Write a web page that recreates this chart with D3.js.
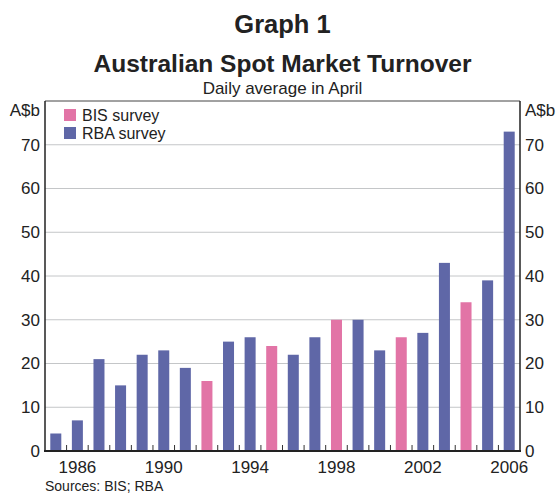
<!DOCTYPE html>
<html>
<head>
<meta charset="utf-8">
<script src="https://cdn.jsdelivr.net/npm/d3@7"></script>
<style>
  body { margin: 0; background: #fff; }
  svg text { font-family: "Liberation Sans", Arial, sans-serif; fill: #222; }
</style>
</head>
<body>
<svg id="chart" width="557" height="495"></svg>
<script>
const years = [1985, 1986, 1987, 1988, 1989, 1990, 1991, 1992, 1993, 1994, 1995,
  1996, 1997, 1998, 1999, 2000, 2001, 2002, 2003, 2004, 2005, 2006];
const turnover = [4, 7, 21, 15, 22, 23, 19, 16, 25, 26, 24,
  22, 26, 30, 30, 23, 26, 27, 43, 34, 39, 73];
const survey = ["RBA", "RBA", "RBA", "RBA", "RBA", "RBA", "RBA", "BIS", "RBA", "RBA", "BIS",
  "RBA", "RBA", "BIS", "RBA", "RBA", "BIS", "RBA", "RBA", "BIS", "RBA", "RBA"];
const yTicks = [0, 10, 20, 30, 40, 50, 60, 70];
const yearLabels = [1986, 1990, 1994, 1998, 2002, 2006];
const legendItems = ["BIS", "RBA"];

const data = years.map((y, i) => ({ year: y, value: turnover[i], survey: survey[i] }));

const colour = { BIS: "#e274a6", RBA: "#5f67a7" };
const margin = { top: 101, right: 37, bottom: 44, left: 45 };
const width = 557, height = 495;
const x0 = margin.left, x1 = width - margin.right;
const y0 = height - margin.bottom, y1 = margin.top;

const svg = d3.select("#chart");

const x = d3.scaleBand()
  .domain(years)
  .range([x0, x1])
  .paddingInner(0.49)
  .paddingOuter(0.245);

const y = d3.scaleLinear().domain([0, 80]).range([y0, y1]);

// gridlines
svg.append("g")
  .selectAll("line")
  .data(yTicks.filter(d => d > 0))
  .join("line")
  .attr("x1", x0).attr("x2", x1)
  .attr("y1", d => y(d)).attr("y2", d => y(d))
  .attr("stroke", "#c4c6c8")
  .attr("stroke-width", 1);

// bars
svg.append("g")
  .selectAll("rect")
  .data(data)
  .join("rect")
  .attr("x", d => x(d.year))
  .attr("y", d => y(d.value))
  .attr("width", x.bandwidth())
  .attr("height", d => y(0) - y(d.value))
  .attr("fill", d => colour[d.survey]);

// frame
svg.append("line").attr("x1", x0).attr("x2", x1).attr("y1", y1).attr("y2", y1)
  .attr("stroke", "#444").attr("stroke-width", 1);
svg.append("line").attr("x1", x0).attr("x2", x0).attr("y1", y1).attr("y2", y0)
  .attr("stroke", "#222").attr("stroke-width", 1.5);
svg.append("line").attr("x1", x1).attr("x2", x1).attr("y1", y1).attr("y2", y0)
  .attr("stroke", "#222").attr("stroke-width", 1.5);

// ticks on the year boundaries
const gap = (x.step() - x.bandwidth()) / 2;
svg.append("g")
  .selectAll("line")
  .data(years.slice(1))
  .join("line")
  .attr("x1", d => x(d) - gap)
  .attr("x2", d => x(d) - gap)
  .attr("y1", y0)
  .attr("y2", y0 - 6)
  .attr("stroke", "#333")
  .attr("stroke-width", 1);

// baseline
svg.append("line").attr("x1", x0 - 1).attr("x2", x1 + 1).attr("y1", y0).attr("y2", y0)
  .attr("stroke", "#222").attr("stroke-width", 2);

// y labels on both sides
const yAxisL = d3.axisLeft(y).tickValues(yTicks).tickSize(0).tickPadding(5);
svg.append("g").attr("transform", `translate(${x0},0)`).call(yAxisL)
  .call(g => g.select(".domain").remove())
  .selectAll("text").style("font-size", "17px").attr("fill", "#222");
const yAxisR = d3.axisRight(y).tickValues(yTicks).tickSize(0).tickPadding(5);
svg.append("g").attr("transform", `translate(${x1},0)`).call(yAxisR)
  .call(g => g.select(".domain").remove())
  .selectAll("text").style("font-size", "17px").attr("fill", "#222");

// year labels
svg.append("g")
  .selectAll("text")
  .data(yearLabels)
  .join("text")
  .attr("x", d => x(d) + x.bandwidth() / 2)
  .attr("y", 473)
  .attr("text-anchor", "middle")
  .style("font-size", "17px")
  .text(d => d);

// units
svg.append("text").attr("x", 40).attr("y", 116).attr("text-anchor", "end")
  .style("font-size", "17px").text("A$b");
svg.append("text").attr("x", 525).attr("y", 116)
  .style("font-size", "17px").text("A$b");

// titles
const cx = (x0 + x1) / 2;
svg.append("text").attr("x", cx).attr("y", 33).attr("text-anchor", "middle")
  .style("font-size", "25.5px").style("font-weight", "bold").text("Graph 1");
svg.append("text").attr("x", cx).attr("y", 72).attr("text-anchor", "middle")
  .style("font-size", "24.5px").style("font-weight", "bold").text("Australian Spot Market Turnover");
svg.append("text").attr("x", cx).attr("y", 94).attr("text-anchor", "middle")
  .style("font-size", "17px").text("Daily average in April");

// legend
const legend = svg.append("g")
  .selectAll("g")
  .data(legendItems)
  .join("g")
  .attr("transform", (d, i) => `translate(64,${109 + i * 18})`);
legend.append("rect").attr("width", 12).attr("height", 12).attr("fill", d => colour[d]);
legend.append("text").attr("x", 18).attr("y", 12)
  .style("font-size", "16px").text(d => d + " survey");

// source
svg.append("text").attr("x", 45).attr("y", 491)
  .style("font-size", "14px").text("Sources: BIS; RBA");
</script>
</body>
</html>
